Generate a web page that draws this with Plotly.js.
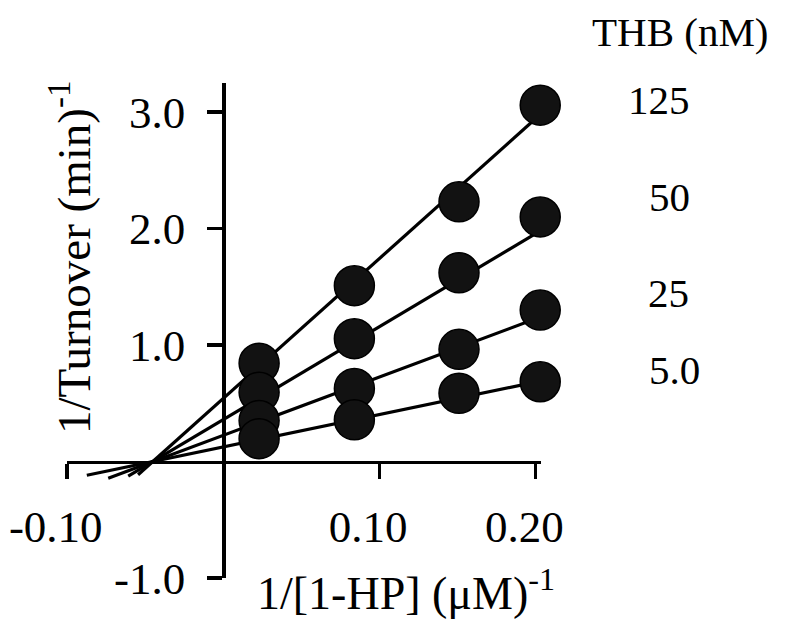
<!DOCTYPE html>
<html>
<head>
<meta charset="utf-8">
<script src="https://cdn.plot.ly/plotly-3.0.1.min.js"></script>
<style>html,body{margin:0;padding:0;background:#fff;}#chart{width:785px;height:635px;}</style>
</head>
<body>
<div id="chart"></div>
<script>
// Data
const invSubstrate = [0.023, 0.084, 0.151, 0.203];           // 1/[1-HP] (µM)^-1
const seriesNames = ['5.0', '25', '50', '125'];               // THB (nM)
const y_5  = [0.196, 0.358, 0.586, 0.685];
const y_25 = [0.352, 0.628, 0.963, 1.30];
const y_50 = [0.594, 1.055, 1.62, 2.10];
const y_125 = [0.844, 1.51, 2.23, 3.06];
// fitted line end points
const fitX_5 = [-0.0873, 0.203],  fitY_5 = [-0.118, 0.69];
const fitX_25 = [-0.0736, 0.203], fitY_25 = [-0.143, 1.24];
const fitX_50 = [-0.0608, 0.203], fitY_50 = [-0.126, 1.98];
const fitX_125 = [-0.0545, 0.203], fitY_125 = [-0.114, 2.98];
const xTickVals = [-0.10, 0.10, 0.20];
const xTickText = ['-0.10', '0.10', '0.20'];
const yTickVals = [-1.0, 1.0, 2.0, 3.0];
const yTickText = ['-1.0', '1.0', '2.0', '3.0'];

const font = 'Liberation Serif, Times New Roman, serif';
const ys = [y_5, y_25, y_50, y_125];
const fx = [fitX_5, fitX_25, fitX_50, fitX_125];
const fy = [fitY_5, fitY_25, fitY_50, fitY_125];

const traces = [];
for (let i = 0; i < 4; i++) {
  traces.push({x: fx[i], y: fy[i], mode: 'lines', type: 'scatter',
    line: {color: '#000', width: 3.2}, hoverinfo: 'skip', showlegend: false});
}
for (let i = 3; i >= 0; i--) {
  traces.push({x: invSubstrate, y: ys[i], mode: 'markers', type: 'scatter', name: seriesNames[i],
    marker: {size: 40, color: '#121212', line: {color: '#000', width: 1.5}},
    showlegend: false, cliponaxis: false});
}

const xMin = -0.10, xMax = 0.2035, yMin = -1.0, yMax = 3.25;
const W = 785, H = 635, L = 67, R = 244, T = 83, B = 57;
const pw = W - L - R, ph = H - T - B;
const px = v => (v - L) / pw;   // pixel -> paper x
const py = v => (H - B - v) / ph; // pixel -> paper y
const labelYpx = [370, 293, 197, 100];
const labelXpx = [674, 668, 669, 659];
const annotations = [
  {text: 'THB (nM)', xref: 'paper', yref: 'paper', x: px(680), y: py(32), xanchor: 'center', yanchor: 'middle',
   showarrow: false, font: {family: font, size: 41, color: '#000'}},
  {text: '1/[1-HP] (μM)<sup>-1</sup>', xref: 'paper', yref: 'paper', x: px(406), y: py(590),
   xanchor: 'center', yanchor: 'middle', showarrow: false, font: {family: font, size: 46, color: '#000'}},
  {text: '1/Turnover (min)<sup>-1</sup>', xref: 'paper', yref: 'paper', x: px(70), y: py(258),
   xanchor: 'center', yanchor: 'middle', textangle: -90, showarrow: false,
   font: {family: font, size: 47, color: '#000'}}
];
for (let i = 0; i < 4; i++) {
  annotations.push({text: seriesNames[i], xref: 'paper', yref: 'paper', x: px(labelXpx[i]), y: py(labelYpx[i]),
    xanchor: 'center', yanchor: 'middle', showarrow: false, font: {family: font, size: 41, color: '#000'}});
}

const nb = '\u00A0\u00A0';
const layout = {
  width: W, height: H,
  margin: {l: L, r: R, t: T, b: B},
  paper_bgcolor: '#fff', plot_bgcolor: '#fff',
  showlegend: false,
  font: {family: font, color: '#000'},
  xaxis: {range: [xMin, xMax], domain: [0, 1], anchor: 'free', position: (0 - yMin) / (yMax - yMin),
    showline: true, linecolor: '#000', linewidth: 3.5, ticks: 'outside', ticklen: 15, tickwidth: 3.5,
    tickcolor: '#000', tickvals: xTickVals, ticktext: xTickText.map(t => t + nb), showgrid: false, zeroline: false,
    ticklabelstandoff: 9, tickfont: {family: font, size: 45, color: '#000'}},
  yaxis: {range: [yMin, yMax], domain: [0, 1], anchor: 'free', position: (0 - xMin) / (xMax - xMin),
    showline: true, linecolor: '#000', linewidth: 3.5, ticks: 'outside', ticklen: 15, tickwidth: 3.5,
    tickcolor: '#000', tickvals: yTickVals, ticktext: yTickText, showgrid: false, zeroline: false,
    ticklabelstandoff: 13, tickfont: {family: font, size: 45, color: '#000'}},
  annotations: annotations
};
Plotly.newPlot('chart', traces, layout, {staticPlot: true, displayModeBar: false});
</script>
</body>
</html>
